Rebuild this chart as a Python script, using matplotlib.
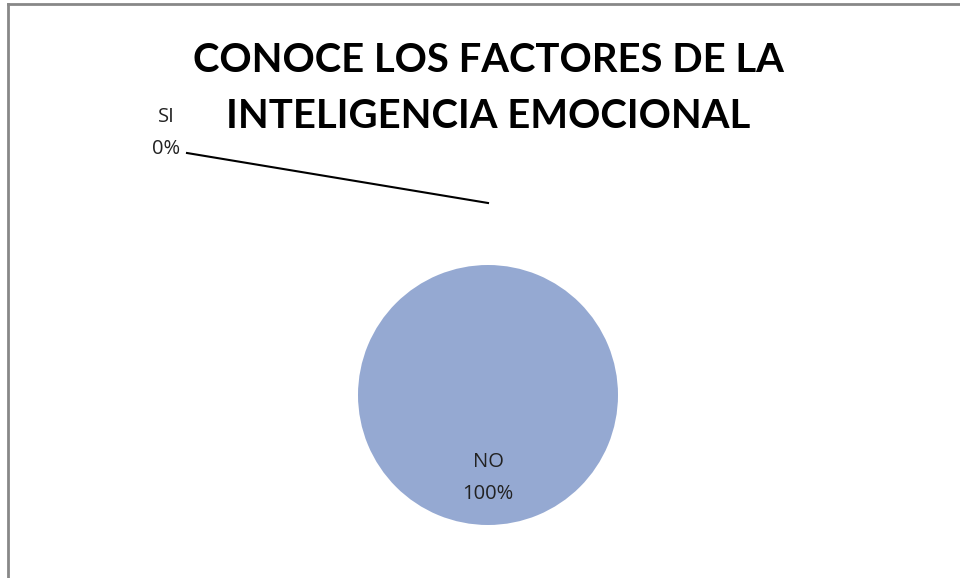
import matplotlib
matplotlib.use("Agg")
import matplotlib.pyplot as plt
from matplotlib.lines import Line2D

title = "CONOCE LOS FACTORES DE LA\nINTELIGENCIA EMOCIONAL"
categories = ["SI", "NO"]
values = [0, 100]
colors = ["#4F81BD", "#95A9D2"]

W, H = 960, 578
fig = plt.figure(figsize=(W / 100, H / 100), dpi=100)
ax = fig.add_axes([0, 0, 1, 1])
ax.set_xlim(0, W)
ax.set_ylim(0, H)
ax.set_aspect("equal")
ax.axis("off")

cx, cy, r = 488, H - 395, 130
total = sum(values)
wedges, _ = ax.pie(values, colors=colors, startangle=90, counterclock=False,
                   center=(cx, cy), radius=r, frame=True)
ax.set_xlim(0, W)
ax.set_ylim(0, H)
ax.axis("off")

pct = [f"{round(v / total * 100)}%" for v in values]
font = "Open Sans"
# SI label with leader line
ax.text(166, H - 133, f"{categories[0]}\n{pct[0]}", ha="center", va="center",
        fontsize=14.5, family=font, color="#222222", linespacing=1.8)
ax.add_line(Line2D([187, 488], [H - 153, H - 203], color="black", lw=1.5))
# NO label
ax.text(488, H - 478, f"{categories[1]}\n{pct[1]}", ha="center", va="center",
        fontsize=14.5, family=font, color="#222222", linespacing=1.8)

ax.text(488, H - 88.5, title, ha="center", va="center", fontsize=28.8,
        fontweight="bold", family="Lato", linespacing=1.6)

# frame border (top and left visible)
fig.add_artist(Line2D([7.5 / W, 7.5 / W], [0, 1 - 4 / H], transform=fig.transFigure,
                      color="#888888", lw=2))
fig.add_artist(Line2D([7.5 / W, 1], [1 - 4 / H, 1 - 4 / H], transform=fig.transFigure,
                      color="#888888", lw=2))

fig.savefig("out.png", dpi=100)
